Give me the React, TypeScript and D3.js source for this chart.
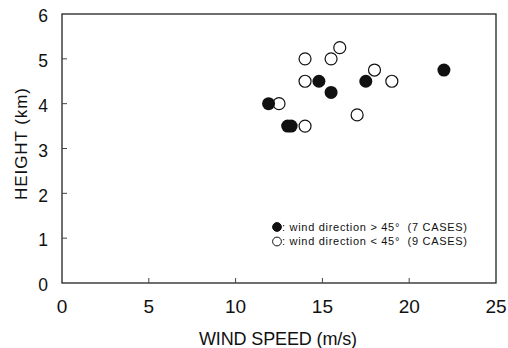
import { useEffect, useRef } from "react"
import * as d3 from "d3"

// wind speed (m/s), height (km)
const closedSpeed = [11.9, 13.0, 13.2, 14.8, 15.5, 17.5, 22.0]
const closedHeight = [4.0, 3.5, 3.5, 4.5, 4.25, 4.5, 4.75]
const openSpeed = [12.5, 14.0, 14.0, 14.0, 15.5, 16.0, 17.0, 18.0, 19.0]
const openHeight = [4.0, 3.5, 4.5, 5.0, 5.0, 5.25, 3.75, 4.75, 4.5]
const xTicks = [0, 5, 10, 15, 20, 25]
const yTicks = [0, 1, 2, 3, 4, 5, 6]
const legendLabels = [
  ": wind direction > 45°  (7 CASES)",
  ": wind direction < 45°  (9 CASES)",
]

export default function App() {
  const svgRef = useRef<SVGSVGElement | null>(null)

  useEffect(() => {
    if (!svgRef.current) return
    const svg = d3.select(svgRef.current)
    svg.selectAll("*").remove()

    const left = 62
    const right = 496
    const top = 14
    const bottom = 283
    const font = "Liberation Sans, Arial, sans-serif"

    const x = d3.scaleLinear().domain([0, 25]).range([left, right])
    const y = d3.scaleLinear().domain([0, 6]).range([bottom, top])

    svg.append("rect").attr("width", 508).attr("height", 348).attr("fill", "#fff")

    // frame
    svg
      .append("rect")
      .attr("x", left)
      .attr("y", top)
      .attr("width", right - left)
      .attr("height", bottom - top)
      .attr("fill", "none")
      .attr("stroke", "#222")
      .attr("stroke-width", 1.3)

    // inward ticks
    svg
      .append("g")
      .selectAll("line")
      .data(xTicks.slice(1, -1))
      .enter()
      .append("line")
      .attr("x1", (d) => x(d))
      .attr("x2", (d) => x(d))
      .attr("y1", bottom)
      .attr("y2", bottom - 5)
      .attr("stroke", "#444")
      .attr("stroke-width", 1)

    svg
      .append("g")
      .selectAll("line")
      .data(yTicks.slice(1, -1))
      .enter()
      .append("line")
      .attr("x1", left)
      .attr("x2", left + 5)
      .attr("y1", (d) => y(d))
      .attr("y2", (d) => y(d))
      .attr("stroke", "#444")
      .attr("stroke-width", 1)

    // tick labels
    svg
      .append("g")
      .selectAll("text")
      .data(xTicks)
      .enter()
      .append("text")
      .attr("x", (d) => x(d))
      .attr("y", 313)
      .attr("text-anchor", "middle")
      .attr("font-family", font)
      .attr("font-size", 19)
      .attr("fill", "#111")
      .text((d) => d)

    svg
      .append("g")
      .selectAll("text")
      .data(yTicks)
      .enter()
      .append("text")
      .attr("x", 48)
      .attr("y", (d) => y(d) + 2)
      .attr("dy", "0.36em")
      .attr("text-anchor", "end")
      .attr("font-family", font)
      .attr("font-size", 17.5)
      .attr("fill", "#111")
      .text((d) => d)

    // axis titles
    svg
      .append("text")
      .attr("x", 278)
      .attr("y", 345)
      .attr("text-anchor", "middle")
      .attr("font-family", font)
      .attr("font-size", 18)
      .attr("fill", "#111")
      .attr("textLength", 158)
      .attr("lengthAdjust", "spacing")
      .text("WIND SPEED (m/s)")

    svg
      .append("text")
      .attr("transform", `translate(27,144) rotate(-90)`)
      .attr("text-anchor", "middle")
      .attr("font-family", font)
      .attr("font-size", 17)
      .attr("fill", "#111")
      .attr("textLength", 112)
      .attr("lengthAdjust", "spacing")
      .text("HEIGHT (km)")

    // points
    const closed = closedSpeed.map((s, i) => ({ s, h: closedHeight[i] }))
    const open = openSpeed.map((s, i) => ({ s, h: openHeight[i] }))

    svg
      .append("g")
      .selectAll("circle")
      .data(open)
      .enter()
      .append("circle")
      .attr("cx", (d) => x(d.s))
      .attr("cy", (d) => y(d.h))
      .attr("r", 6)
      .attr("fill", "#fff")
      .attr("stroke", "#111")
      .attr("stroke-width", 1.2)

    svg
      .append("g")
      .selectAll("circle")
      .data(closed)
      .enter()
      .append("circle")
      .attr("cx", (d) => x(d.s))
      .attr("cy", (d) => y(d.h))
      .attr("r", 6.5)
      .attr("fill", "#111")

    // legend
    const legend = svg
      .append("g")
      .selectAll("g")
      .data(legendLabels)
      .enter()
      .append("g")
      .attr("transform", (d, i) => `translate(277,${227 + i * 14.5})`)

    legend
      .append("circle")
      .attr("r", 4.4)
      .attr("fill", (d, i) => (i === 0 ? "#111" : "#fff"))
      .attr("stroke", "#111")
      .attr("stroke-width", 1)

    legend
      .append("text")
      .attr("x", 5)
      .attr("dy", "0.35em")
      .attr("font-family", font)
      .attr("font-size", 11)
      .attr("fill", "#111")
      .attr("textLength", 185)
      .attr("lengthAdjust", "spacing")
      .style("white-space", "pre")
      .text((d) => d)
  }, [])

  return (
    <svg
      ref={svgRef}
      width={508}
      height={348}
      style={{ position: "absolute", left: 0, top: 0 }}
    />
  )
}
